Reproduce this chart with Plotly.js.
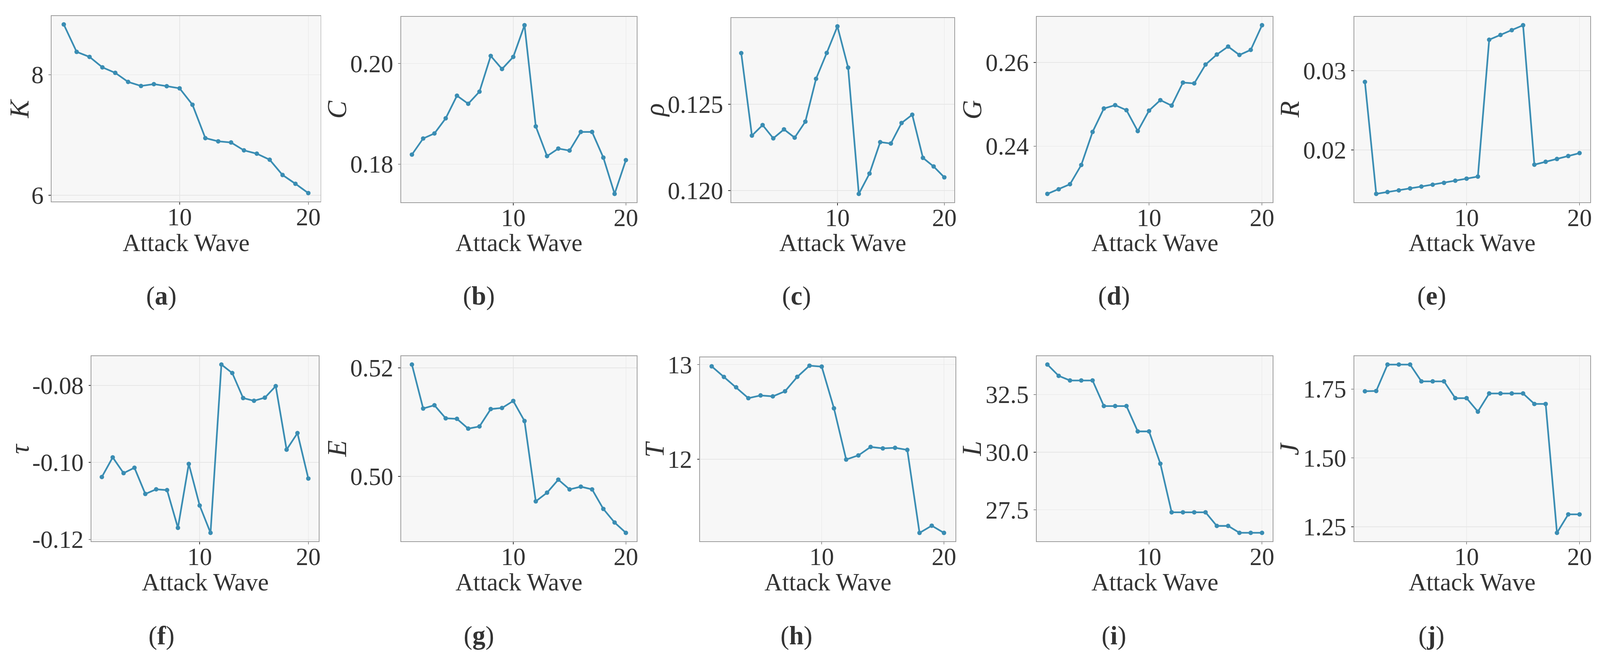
<!DOCTYPE html>
<html>
<head>
<meta charset="utf-8">
<script src="https://cdn.plot.ly/plotly-3.0.1.min.js"></script>
<style>
  html, body { margin: 0; padding: 0; background: #ffffff; overflow: hidden; }
  #chart { position: absolute; left: 0; top: 0; }
</style>
</head>
<body>
<div id="chart"></div>
<script>
// ---------------- data ----------------
const waves = [1, 2, 3, 4, 5, 6, 7, 8, 9, 10, 11, 12, 13, 14, 15, 16, 17, 18, 19, 20];

const K   = [8.833, 8.378, 8.295, 8.122, 8.030, 7.880, 7.813, 7.843, 7.809, 7.774,
             7.502, 6.948, 6.895, 6.876, 6.745, 6.690, 6.590, 6.337, 6.191, 6.037];
const C   = [0.1819, 0.1851, 0.1861, 0.1891, 0.1936, 0.1920, 0.1944, 0.2015, 0.1989, 0.2013,
             0.2076, 0.1875, 0.1816, 0.1831, 0.1827, 0.1864, 0.1864, 0.1813, 0.1741, 0.1808];
const rho = [0.12797, 0.12319, 0.12380, 0.12303, 0.12355, 0.12307, 0.12400, 0.12648, 0.12798, 0.12952,
             0.12713, 0.11981, 0.12099, 0.12281, 0.12273, 0.12392, 0.12440, 0.12190, 0.12140, 0.12077];
const G   = [0.2286, 0.2297, 0.2309, 0.2355, 0.2434, 0.2490, 0.2498, 0.2486, 0.2436, 0.2485,
             0.2510, 0.2497, 0.2552, 0.2550, 0.2595, 0.2619, 0.2638, 0.2618, 0.2630, 0.2689];
const R   = [0.02859, 0.01447, 0.01470, 0.01491, 0.01516, 0.01539, 0.01562, 0.01586, 0.01613, 0.01639,
             0.01665, 0.03391, 0.03451, 0.03512, 0.03574, 0.01815, 0.01852, 0.01887, 0.01924, 0.01961];
const tau = [-0.1038, -0.0987, -0.1028, -0.1014, -0.1082, -0.1070, -0.1072, -0.1170, -0.1004, -0.1112,
             -0.1183, -0.0746, -0.0768, -0.0833, -0.0840, -0.0832, -0.0802, -0.0967, -0.0924, -0.1042];
const E   = [0.5206, 0.5125, 0.5131, 0.5107, 0.5106, 0.5088, 0.5092, 0.5124, 0.5126, 0.5139,
             0.5102, 0.4954, 0.4970, 0.4994, 0.4976, 0.4981, 0.4976, 0.4940, 0.4915, 0.4896];
const T   = [12.981, 12.869, 12.760, 12.645, 12.674, 12.664, 12.718, 12.870, 12.988, 12.978,
             12.538, 11.997, 12.041, 12.130, 12.115, 12.121, 12.099, 11.223, 11.299, 11.223];
const L   = [33.80, 33.31, 33.11, 33.11, 33.11, 32.00, 32.00, 32.00, 30.90, 30.90,
             29.50, 27.39, 27.39, 27.39, 27.39, 26.80, 26.80, 26.50, 26.50, 26.50];
const J   = [1.742, 1.743, 1.839, 1.839, 1.839, 1.778, 1.778, 1.778, 1.717, 1.717,
             1.668, 1.734, 1.734, 1.734, 1.734, 1.696, 1.696, 1.228, 1.295, 1.295];

// tick labels
const xTickVals = [10, 20];
const xTickText = ['10', '20'];
const kTickVals = [6, 8];            const kTickText = ['6', '8'];
const cTickVals = [0.18, 0.20];      const cTickText = ['0.18', '0.20'];
const rhoTickVals = [0.120, 0.125];  const rhoTickText = ['0.120', '0.125'];
const gTickVals = [0.24, 0.26];      const gTickText = ['0.24', '0.26'];
const rTickVals = [0.02, 0.03];      const rTickText = ['0.02', '0.03'];
const tauTickVals = [-0.12, -0.10, -0.08]; const tauTickText = ['-0.12', '-0.10', '-0.08'];
const eTickVals = [0.50, 0.52];      const eTickText = ['0.50', '0.52'];
const tTickVals = [12, 13];          const tTickText = ['12', '13'];
const lTickVals = [27.5, 30.0, 32.5]; const lTickText = ['27.5', '30.0', '32.5'];
const jTickVals = [1.25, 1.50, 1.75]; const jTickText = ['1.25', '1.50', '1.75'];

const xTitle = 'Attack Wave';
const yTitles = ['K', 'C', 'ρ', 'G', 'R', 'τ', 'E', 'T', 'L', 'J'];
const subLabels = ['a', 'b', 'c', 'd', 'e', 'f', 'g', 'h', 'i', 'j'];

// ---------------- layout ----------------
const REF_W = 4283, REF_H = 1685;               // reference design size
const W = window.innerWidth || REF_W;
const H = window.innerHeight || REF_H;
const s = Math.min(W / REF_W, H / REF_H);        // scale for sizes
const FONT = 'Liberation Serif, Times New Roman, serif';
const TXT = '#333333';
const LINE = '#3a8db3';

document.getElementById('chart').style.width = W + 'px';
document.getElementById('chart').style.height = H + 'px';

// plot boxes in reference pixels: [left, right, top, bottom]
const panels = [
  {y: K,   tv: kTickVals,   tt: kTickText,   box: [138, 858, 41, 516]},
  {y: C,   tv: cTickVals,   tt: cTickText,   box: [1074, 1704, 43, 518]},
  {y: rho, tv: rhoTickVals, tt: rhoTickText, box: [1957, 2555, 46, 518]},
  {y: G,   tv: gTickVals,   tt: gTickText,   box: [2775, 3407, 43, 518]},
  {y: R,   tv: rTickVals,   tt: rTickText,   box: [3625, 4257, 43, 518]},
  {y: tau, tv: tauTickVals, tt: tauTickText, box: [245, 853, 912, 1386]},
  {y: E,   tv: eTickVals,   tt: eTickText,   box: [1074, 1704, 912, 1386]},
  {y: T,   tv: tTickVals,   tt: tTickText,   box: [1874, 2558, 915, 1386]},
  {y: L,   tv: lTickVals,   tt: lTickText,   box: [2775, 3407, 912, 1386]},
  {y: J,   tv: jTickVals,   tt: jTickText,   box: [3625, 4257, 912, 1386]}
];

const traces = [];
const layout = {
  width: W, height: H,
  margin: {l: 0, r: 0, t: 0, b: 0},
  paper_bgcolor: '#ffffff',
  plot_bgcolor: '#f7f7f7',
  showlegend: false,
  font: {family: FONT, color: TXT, size: 66 * s},
  annotations: []
};

function padRange(arr) {
  const mn = Math.min(...arr), mx = Math.max(...arr);
  const p = (mx - mn) * 0.05;
  return [mn - p, mx + p];
}

const axisCommon = {
  showgrid: true, gridcolor: '#e6e6e6', gridwidth: 1.5 * s,
  zeroline: false,
  showline: true, mirror: true, linecolor: '#9c9c9c', linewidth: 2 * s,
  ticks: 'outside', ticklen: 6 * s, tickwidth: 1.5 * s, tickcolor: TXT,
  tickfont: {family: FONT, size: 66 * s, color: TXT},
  fixedrange: true
};

panels.forEach((p, i) => {
  const n = i + 1;
  const xa = 'xaxis' + (n === 1 ? '' : n);
  const ya = 'yaxis' + (n === 1 ? '' : n);
  const xr = 'x' + (n === 1 ? '' : n);
  const yr = 'y' + (n === 1 ? '' : n);
  const [x0, x1, y0, y1] = p.box;

  traces.push({
    type: 'scatter', mode: 'lines+markers',
    x: waves, y: p.y, xaxis: xr, yaxis: yr,
    line: {color: LINE, width: 4.5 * s},
    marker: {color: LINE, size: 12 * s},
    hoverinfo: 'skip'
  });

  layout[xa] = Object.assign({}, axisCommon, {
    domain: [x0 / REF_W, x1 / REF_W],
    range: [0.05, 20.95],
    tickmode: 'array', tickvals: xTickVals, ticktext: xTickText,
    ticklabelstandoff: Math.round(-23 * s),
    anchor: yr
  });
  layout[ya] = Object.assign({}, axisCommon, {
    domain: [1 - y1 / REF_H, 1 - y0 / REF_H],
    range: padRange(p.y),
    tickmode: 'array', tickvals: p.tv, ticktext: p.tt,
    anchor: xr
  });

  const col = i % 5, row = Math.floor(i / 5);
  const cellLeft = col * 850;
  const midY = (y0 + y1) / 2;

  // y-axis title (italic symbol)
  layout.annotations.push({
    xref: 'paper', yref: 'paper',
    x: (cellLeft + 52) / REF_W, y: 1 - midY / REF_H,
    xanchor: 'center', yanchor: 'middle',
    text: '<i>' + yTitles[i] + '</i>', textangle: -90, showarrow: false,
    font: {family: FONT, size: 72 * s, color: TXT}
  });
  // x-axis title
  layout.annotations.push({
    xref: 'paper', yref: 'paper',
    x: ((x0 + x1) / 2) / REF_W, y: 1 - (row === 0 ? 622 : 1491) / REF_H,
    xanchor: 'center', yanchor: 'middle',
    text: xTitle, showarrow: false,
    font: {family: FONT, size: 66 * s, color: TXT}
  });
  // sub-figure label
  layout.annotations.push({
    xref: 'paper', yref: 'paper',
    x: (cellLeft + 432) / REF_W, y: 1 - (row === 0 ? 758 : 1627) / REF_H,
    xanchor: 'center', yanchor: 'middle',
    text: '(<b>' + subLabels[i] + '</b>)', showarrow: false,
    font: {family: FONT, size: 70 * s, color: TXT}
  });
});

Plotly.newPlot('chart', traces, layout, {displayModeBar: false, staticPlot: true});
</script>
</body>
</html>
